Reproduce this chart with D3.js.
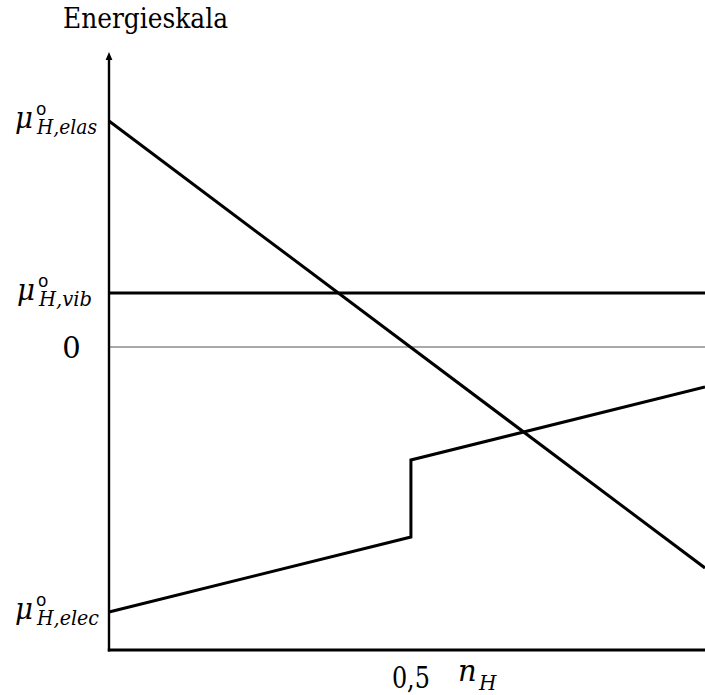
<!DOCTYPE html>
<html>
<head>
<meta charset="utf-8">
<script src="https://cdn.jsdelivr.net/npm/d3@7"></script>
<style>
  html, body { margin: 0; padding: 0; background: #fff; }
  svg { display: block; }
  svg text { font-family: "DejaVu Serif", "Liberation Serif", "Noto Serif", serif; }
  svg text.ring { font-family: "DejaVu Sans", sans-serif; }
</style>
</head>
<body>
<div id="chart"></div>
<script>
// ---- data ----
const xDomain = [0, 0.987];           // n_H range shown
const yDomain = [-3.03, 2.95];         // energy scale (arbitrary units)
const xTickValues = [0.5];
const xTickLabels = ["0,5"];

const elasX = [0, 0.987];
const elasY = [2.26, -2.21];

const vibX = [0, 0.987];
const vibY = [0.54, 0.54];

const zeroX = [0, 0.987];
const zeroY = [0, 0];

const elecX = [0, 0.5, 0.5, 0.987];
const elecY = [-2.65, -1.90, -1.13, -0.40];

const levelNames = ["elas", "vib", "elec"];
const levelValues = [2.26, 0.54, -2.65];
const levelLabelX = [15, 17, 15];
const levelSubWidth = [60, 53, 62];

// ---- drawing ----
const W = 705, H = 695;
const svg = d3.select("#chart").append("svg").attr("width", W).attr("height", H);

const x = d3.scaleLinear().domain(xDomain).range([109, 705]);
const y = d3.scaleLinear().domain(yDomain).range([650, 52]);

const line = d3.line().x(d => x(d[0])).y(d => y(d[1]));
const zip = (a, b) => a.map((v, i) => [v, b[i]]);

// zero line (thin gray)
svg.append("path").attr("d", line(zip(zeroX, zeroY)))
  .attr("fill", "none").attr("stroke", "#555").attr("stroke-width", 1.2);

// axes
svg.append("line").attr("x1", x(0) - 1.2).attr("x2", x(xDomain[1])).attr("y1", y(yDomain[0])).attr("y2", y(yDomain[0]))
  .attr("stroke", "#000").attr("stroke-width", 2.8);
svg.append("line").attr("x1", x(0)).attr("x2", x(0)).attr("y1", y(yDomain[0]) + 1.4).attr("y2", y(yDomain[1]) + 4)
  .attr("stroke", "#000").attr("stroke-width", 2.4);
// arrow head
const ax = x(0), ay = y(yDomain[1]);
svg.append("path").attr("d", `M${ax},${ay} L${ax - 3.4},${ay + 8} L${ax + 3.4},${ay + 8} Z`).attr("fill", "#000");

// series lines
[[elasX, elasY], [vibX, vibY], [elecX, elecY]].forEach(([xs, ys]) => {
  svg.append("path").attr("d", line(zip(xs, ys)))
    .attr("fill", "none").attr("stroke", "#000").attr("stroke-width", 3)
    .attr("stroke-linejoin", "miter");
});

// title of y axis
svg.append("text").attr("x", 63).attr("y", 28)
  .attr("font-size", 27).attr("textLength", 165).attr("lengthAdjust", "spacingAndGlyphs")
  .text("Energieskala");

// level labels
levelNames.forEach((name, i) => {
  const yy = y(levelValues[i]);
  const x0 = levelLabelX[i];
  const g = svg.append("g");
  g.append("text").attr("x", x0).attr("y", yy + 6.5)
    .attr("font-size", 29).attr("font-style", "italic")
    .attr("textLength", 18).attr("lengthAdjust", "spacingAndGlyphs").text("μ");
  g.append("text").attr("class", "ring").attr("x", x0 + 21).attr("y", yy - 6)
    .attr("font-size", 17).text("o");
  g.append("text").attr("x", x0 + 22).attr("y", yy + 13)
    .attr("font-size", 20).attr("font-style", "italic")
    .attr("textLength", levelSubWidth[i]).attr("lengthAdjust", "spacingAndGlyphs")
    .text("H," + name);
});

// zero label
svg.append("text").attr("x", 71.5).attr("y", y(0) + 11).attr("text-anchor", "middle")
  .attr("font-size", 29).text("0");

// x tick labels
xTickValues.forEach((v, i) => {
  svg.append("text").attr("x", x(v)).attr("y", 688).attr("text-anchor", "middle")
    .attr("font-size", 29).attr("textLength", 38).attr("lengthAdjust", "spacingAndGlyphs")
    .text(xTickLabels[i]);
});

// x axis label n_H
svg.append("text").attr("x", 458).attr("y", 681)
  .attr("font-size", 29).attr("font-style", "italic").text("n");
svg.append("text").attr("x", 479).attr("y", 690)
  .attr("font-size", 20).attr("font-style", "italic").text("H");
</script>
</body>
</html>
